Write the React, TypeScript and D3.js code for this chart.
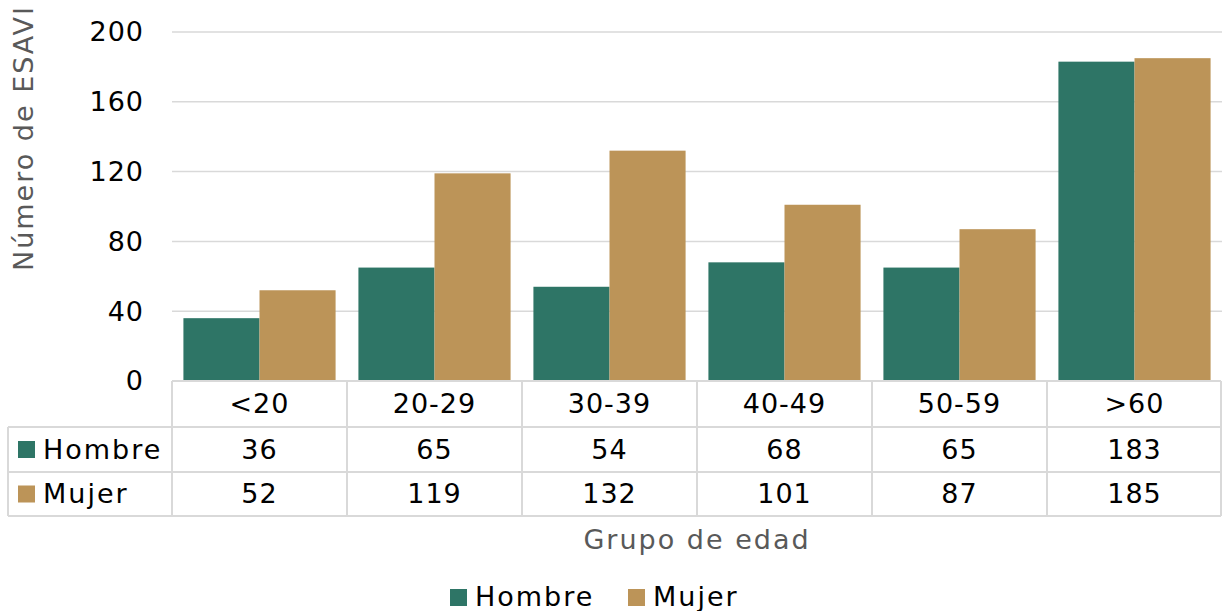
import React from "react";
import * as d3 from "d3";

const categories = ["<20", "20-29", "30-39", "40-49", "50-59", ">60"];
const seriesNames = ["Hombre", "Mujer"];
const hombre = [36, 65, 54, 68, 65, 183];
const mujer = [52, 119, 132, 101, 87, 185];
const yTicks = [0, 40, 80, 120, 160, 200];
const colors = ["#2e7566", "#bc9458"];

const W = 1222, H = 611;
const FONT = "'DejaVu Sans', sans-serif";
const FS = 27;
const LS_NUM = 1;
const LS_WORD = 2;

export default function App() {
  const x0 = d3.scaleBand().domain(categories).range([172, 1222]).paddingInner(0).paddingOuter(0);
  const x1 = d3.scaleBand().domain(seriesNames).range([0, x0.bandwidth()]).paddingInner(0).paddingOuter(0.15);
  const y = d3.scaleLinear().domain([0, 200]).range([381, 32]);
  const values = [hombre, mujer];
  const grid = "#d9d9d9";
  const rowY = [381, 427, 472, 516];
  return (
    <svg width={W} height={H} style={{ position: "absolute", left: 0, top: 0 }} fontFamily={FONT}>
      <rect width={W} height={H} fill="#fff" />
      {yTicks.map((t) => (
        <g key={t}>
          {t > 0 && <line x1={172} x2={1222} y1={y(t)} y2={y(t)} stroke={grid} strokeWidth={1.5} />}
          <text x={144} y={y(t)} dy="0.35em" textAnchor="end" fontSize={FS} letterSpacing={LS_NUM} fill="#000">{t}</text>
        </g>
      ))}
      {categories.map((c, i) => (
        <g key={c}>
          {values.map((vals, s) => (
            <rect key={s} x={(x0(c) as number) + (x1(seriesNames[s]) as number)} width={x1.bandwidth()}
              y={y(vals[i])} height={y(0) - y(vals[i])} fill={colors[s]} />
          ))}
        </g>
      ))}
      {/* data table */}
      <line x1={172} x2={1221} y1={381} y2={381} stroke={grid} strokeWidth={2} />
      <line x1={8} x2={1221} y1={427} y2={427} stroke={grid} strokeWidth={2} />
      <line x1={8} x2={1221} y1={472} y2={472} stroke={grid} strokeWidth={2} />
      <line x1={8} x2={1221} y1={516} y2={516} stroke={grid} strokeWidth={2} />
      <line x1={8} x2={8} y1={427} y2={516} stroke={grid} strokeWidth={2} />
      {categories.map((c) => (
        <line key={c} x1={x0(c) as number} x2={x0(c) as number} y1={381} y2={516} stroke={grid} strokeWidth={2} />
      ))}
      <line x1={1221} x2={1221} y1={381} y2={516} stroke={grid} strokeWidth={2} />
      {categories.map((c, i) => (
        <g key={c}>
          <text x={(x0(c) as number) + x0.bandwidth() / 2} y={(rowY[0] + rowY[1]) / 2} dy="0.35em" textAnchor="middle" fontSize={FS} letterSpacing={LS_NUM}>{c}</text>
          {values.map((vals, s) => (
            <text key={s} x={(x0(c) as number) + x0.bandwidth() / 2} y={(rowY[s + 1] + rowY[s + 2]) / 2} dy="0.35em" textAnchor="middle" fontSize={FS} letterSpacing={LS_NUM}>{vals[i]}</text>
          ))}
        </g>
      ))}
      {seriesNames.map((n, s) => (
        <g key={n}>
          <rect x={18} y={(rowY[s + 1] + rowY[s + 2]) / 2 - 8.5} width={17} height={17} fill={colors[s]} />
          <text x={43} y={(rowY[s + 1] + rowY[s + 2]) / 2} dy="0.35em" fontSize={FS} letterSpacing={LS_WORD}>{n}</text>
        </g>
      ))}
      {/* axis titles */}
      <text transform={`translate(33,138) rotate(-90)`} textAnchor="middle" fontSize={FS} letterSpacing={LS_WORD} fill="#595959">Número de ESAVI</text>
      <text x={697} y={540} dy="0.35em" textAnchor="middle" fontSize={FS} letterSpacing={LS_WORD} fill="#595959">Grupo de edad</text>
      {/* legend */}
      <rect x={450} y={589} width={17} height={17} fill={colors[0]} />
      <text x={475} y={597} dy="0.35em" fontSize={FS} letterSpacing={LS_WORD}>Hombre</text>
      <rect x={628} y={589} width={17} height={17} fill={colors[1]} />
      <text x={653} y={597} dy="0.35em" fontSize={FS} letterSpacing={LS_WORD}>Mujer</text>
    </svg>
  );
}
